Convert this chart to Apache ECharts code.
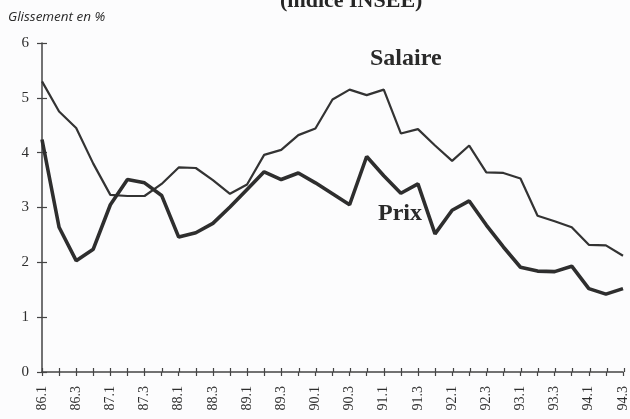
<!DOCTYPE html>
<html>
<head>
<meta charset="utf-8">
<script src="https://cdn.jsdelivr.net/npm/echarts@6/dist/echarts.min.js"></script>
<style>
html,body{margin:0;padding:0;background:#fcfcfd;}
#c{width:630px;height:419px;}
</style>
</head>
<body>
<div id="c"></div>
<script>
// Quarters 86.1 .. 94.3
var quarters = ['86.1','86.2','86.3','86.4','87.1','87.2','87.3','87.4','88.1','88.2','88.3','88.4',
  '89.1','89.2','89.3','89.4','90.1','90.2','90.3','90.4','91.1','91.2','91.3','91.4',
  '92.1','92.2','92.3','92.4','93.1','93.2','93.3','93.4','94.1','94.2','94.3'];
// Glissement annuel en %
var salaire = [5.3, 4.75, 4.45, 3.8, 3.23, 3.21, 3.21, 3.43, 3.73, 3.72, 3.5, 3.25,
  3.42, 3.96, 4.05, 4.32, 4.44, 4.97, 5.15, 5.05, 5.15, 4.35, 4.43, 4.13,
  3.85, 4.13, 3.64, 3.63, 3.53, 2.85, 2.75, 2.64, 2.32, 2.31, 2.12];
var prix = [4.24, 2.64, 2.03, 2.24, 3.05, 3.51, 3.45, 3.22, 2.46, 2.54, 2.71, 3.01,
  3.33, 3.65, 3.51, 3.63, 3.45, 3.25, 3.05, 3.93, 3.58, 3.26, 3.43, 2.52,
  2.95, 3.12, 2.68, 2.28, 1.91, 1.84, 1.83, 1.93, 1.52, 1.42, 1.52];
var yTicks = [0, 1, 2, 3, 4, 5, 6];

var serif = 'Liberation Serif';
var ink = '#2e2e2e';
var chart = echarts.init(document.getElementById('c'), null, {renderer: 'canvas'});
var gridRect = {left: 42, right: 6, top: 43, bottom: 47};
chart.setOption({
  backgroundColor: '#fcfcfd',
  animation: false,
  grid: [Object.assign({}, gridRect), Object.assign({}, gridRect)],
  xAxis: [{
    gridIndex: 0, type: 'category', data: quarters, boundaryGap: false,
    axisLine: {lineStyle: {color: '#444', width: 1.5}},
    axisTick: {show: true, interval: 0, length: 4, inside: false, lineStyle: {color: '#444', width: 1.2}},
    axisLabel: {interval: 1, rotate: 90, margin: 14, color: ink, fontFamily: serif, fontSize: 14},
    splitLine: {show: false}
  }, {
    gridIndex: 1, type: 'category', data: quarters, boundaryGap: false,
    axisLine: {show: false},
    axisTick: {show: true, interval: 0, length: 4, inside: true, lineStyle: {color: '#444', width: 1.2}},
    axisLabel: {show: false}, splitLine: {show: false}
  }],
  yAxis: [{
    gridIndex: 0, type: 'value', min: yTicks[0], max: yTicks[yTicks.length - 1], interval: 1,
    axisLine: {show: true, lineStyle: {color: '#444', width: 1.5}},
    axisTick: {show: true, length: 5, inside: false, lineStyle: {color: '#444', width: 1.2}},
    axisLabel: {margin: 13, color: ink, fontFamily: serif, fontSize: 15},
    splitLine: {show: false}
  }, {
    gridIndex: 1, type: 'value', min: yTicks[0], max: yTicks[yTicks.length - 1], interval: 1,
    axisLine: {show: false},
    axisTick: {show: true, length: 5, inside: true, lineStyle: {color: '#444', width: 1.2}},
    axisLabel: {show: false}, splitLine: {show: false}
  }],
  series: [{
    name: 'Salaire', type: 'line', xAxisIndex: 0, yAxisIndex: 0, data: salaire,
    symbol: 'none', lineStyle: {color: '#333', width: 2.2}, z: 3
  }, {
    name: 'Prix', type: 'line', xAxisIndex: 0, yAxisIndex: 0, data: prix,
    symbol: 'none', lineStyle: {color: '#2e2e2e', width: 3.6}, z: 4
  }],
  graphic: [{
    type: 'text', left: 280, top: -10,
    style: {text: '(indice INSEE)', font: 'bold 22px "Liberation Serif"', fill: '#262626'}
  }, {
    type: 'text', left: 8, top: 10,
    style: {text: 'Glissement en %', font: 'italic 13.5px "Open Sans"', fill: '#2a2a2a'}
  }, {
    type: 'text', left: 370, top: 47,
    style: {text: 'Salaire', font: 'bold 24px "Liberation Serif"', fill: '#2a2a2a'}
  }, {
    type: 'text', left: 378, top: 202,
    style: {text: 'Prix', font: 'bold 24px "Liberation Serif"', fill: '#2a2a2a'}
  }]
});
</script>
</body>
</html>
